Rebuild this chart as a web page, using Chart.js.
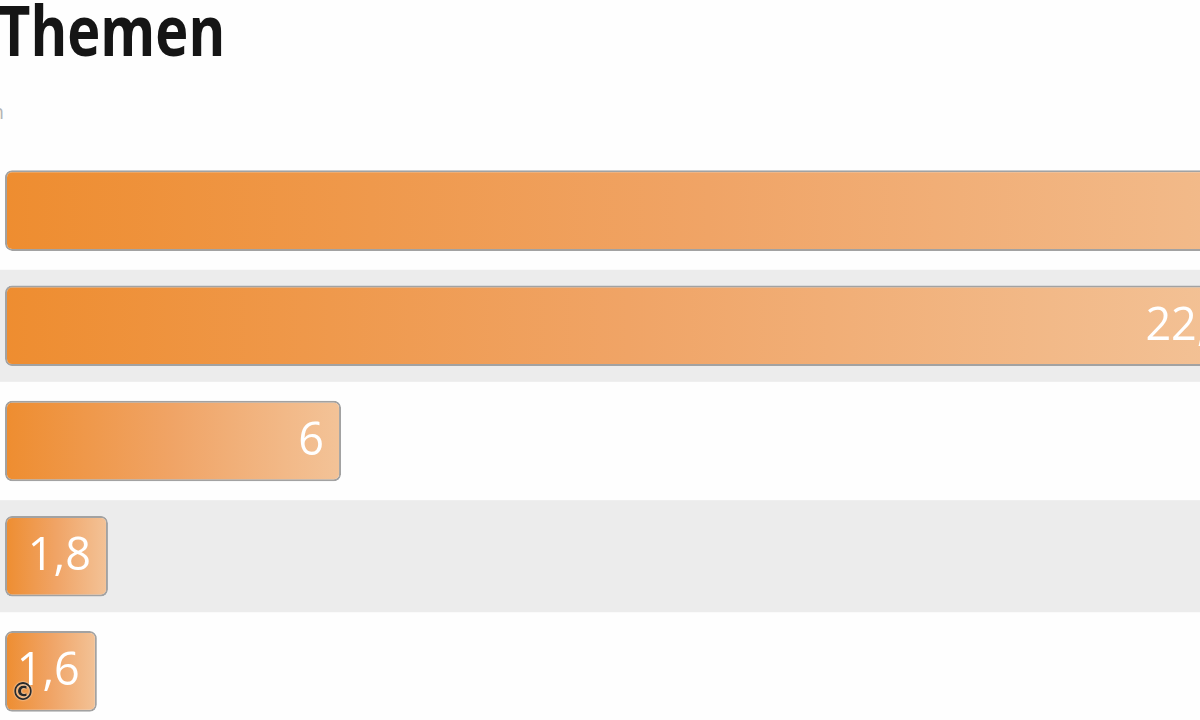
<!DOCTYPE html>
<html>
<head>
<meta charset="utf-8">
<script src="https://cdn.jsdelivr.net/npm/chart.js@4/dist/chart.umd.min.js"></script>
<style>
  html, body { margin: 0; padding: 0; background: #fefefe; overflow: hidden; width: 1200px; height: 720px; }
  #wrap { position: relative; width: 1200px; height: 720px; overflow: hidden; }
  #title { position: absolute; left: -2px; top: -6px; font-family: "Open Sans", sans-serif; font-weight: bold; font-size: 70px; line-height: 1; color: #151515; white-space: nowrap; transform: scaleX(0.8); transform-origin: left top; }
  #sub { position: absolute; right: 1196px; top: 98px; font-family: "Open Sans", sans-serif; font-size: 20px; color: #b5b5b5; white-space: nowrap; }
  #copy { position: absolute; left: 11px; top: 680px; font-family: "DejaVu Sans", sans-serif; font-weight: bold; font-size: 24px; line-height: 1; color: #2a2a2a; text-shadow: 0 0 2px #ffffff; }
  canvas { position: absolute; left: 0; top: 0; }
</style>
</head>
<body>
<div id="wrap">
  <div id="title">Themen</div>
  <div id="sub">Angaben in Millionen</div>
  <canvas id="c" width="1461" height="760"></canvas>
  <div id="copy">©</div>
</div>
<script>
var categories = ['Thema 1', 'Thema 2', 'Thema 3', 'Thema 4', 'Thema 5'];
var values = [25.3, 22.4, 6, 1.8, 1.6];
var stripeRows = [1, 3];

function fmt(v) {
  return String(v).replace('.', ',');
}

var stripes = {
  id: 'stripes',
  beforeDatasetsDraw: function (chart) {
    var ctx = chart.ctx;
    var y = chart.scales.y;
    ctx.save();
    stripeRows.forEach(function (i) {
      var cy = y.getPixelForValue(i);
      ctx.fillStyle = '#ececec';
      ctx.fillRect(0, cy - 56, chart.width, 112);
    });
    ctx.restore();
  }
};

var valueLabels = {
  id: 'valueLabels',
  afterDatasetsDraw: function (chart) {
    var ctx = chart.ctx;
    var meta = chart.getDatasetMeta(0);
    ctx.save();
    ctx.font = '45px "Open Sans", sans-serif';
    ctx.fillStyle = '#ffffff';
    ctx.textAlign = 'right';
    ctx.textBaseline = 'middle';
    meta.data.forEach(function (bar, i) {
      ctx.fillText(fmt(values[i]), bar.x - 17, bar.y + 1);
    });
    ctx.restore();
  }
};

var ctx = document.getElementById('c').getContext('2d');
new Chart(ctx, {
  type: 'bar',
  data: {
    labels: categories,
    datasets: [{
      data: values,
      base: -0.055,
      backgroundColor: function (context) {
        var chart = context.chart;
        var xs = chart.scales.x;
        if (!xs || context.parsed == null) return '#ef8f35';
        var x0 = xs.getPixelForValue(-0.055);
        var x1 = xs.getPixelForValue(context.parsed.x);
        if (!isFinite(x1) || x1 <= x0) return '#ef8f35';
        var g = chart.ctx.createLinearGradient(x0, 0, x1, 0);
        g.addColorStop(0, '#ee8d30');
        g.addColorStop(0.5, '#f0a466');
        g.addColorStop(1, '#f3c398');
        return g;
      },
      borderColor: '#a2a2a2',
      borderWidth: 2,
      borderRadius: 7,
      borderSkipped: false,
      barPercentage: 0.7,
      categoryPercentage: 1
    }]
  },
  options: {
    indexAxis: 'y',
    responsive: false,
    animation: false,
    layout: { padding: { left: 5, right: 0, top: 153, bottom: 31 } },
    scales: {
      x: { display: false, min: -0.055, max: 26.18 },
      y: { display: false }
    },
    plugins: {
      legend: { display: false },
      tooltip: { enabled: false }
    }
  },
  plugins: [stripes, valueLabels]
});
</script>
</body>
</html>
